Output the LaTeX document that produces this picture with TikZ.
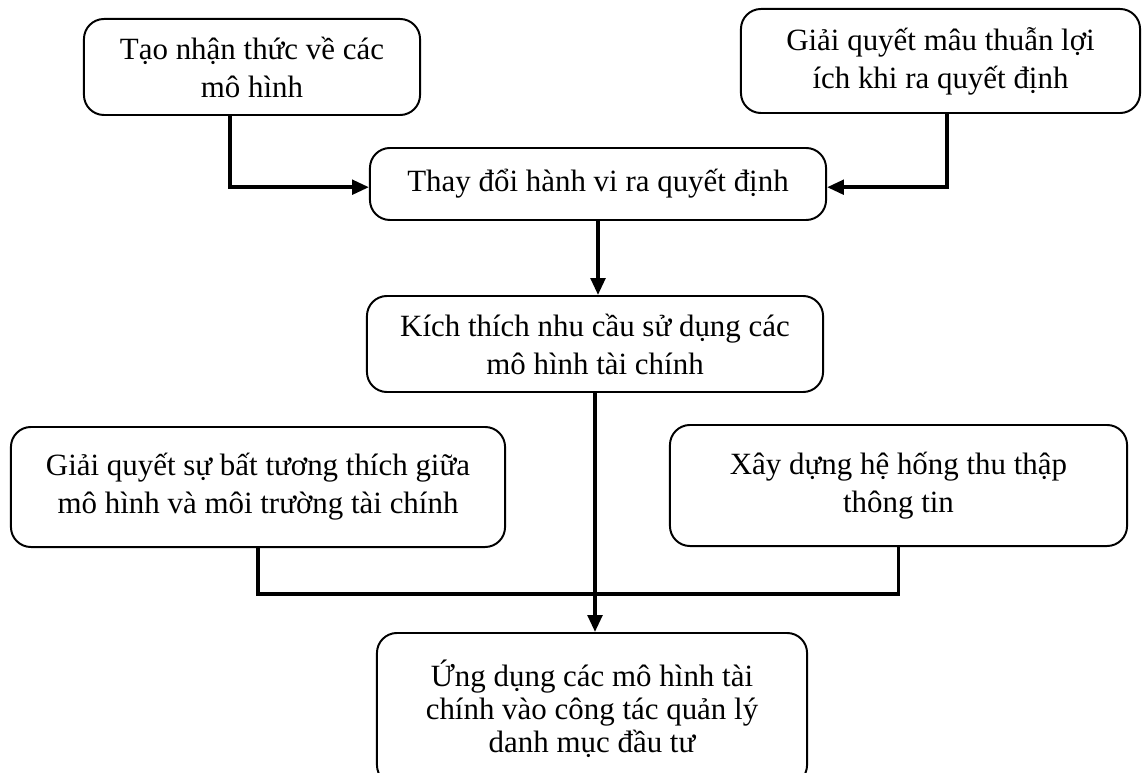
\documentclass[tikz,border=0pt]{standalone}
\usepackage{fontspec}
\setmainfont{Liberation Serif}
\usetikzlibrary{arrows.meta,positioning}

\begin{document}
\begin{tikzpicture}[x=0.025cm,y=-0.025cm,
        every node/.style={font=\fontsize{22}{27}\selectfont},
        box/.style={draw,line width=1.4pt,rounded corners=0.5cm,align=center,inner sep=0pt},
        link/.style={line width=2.6pt},
        arr/.style={link,-{Triangle[length=0.42cm,width=0.36cm]}}]
      \useasboundingbox (0,0) rectangle (1148,773);
      \node[box,minimum width=8.4cm,minimum height=2.4cm]     (nhanthuc) at (252,67)    {Tạo nhận thức về các\\mô hình};
      \node[box,minimum width=9.975cm,minimum height=2.6cm]   (mauthuan) at (940.5,61)  {Giải quyết mâu thuẫn lợi\\ích khi ra quyết định};
      \node[box,minimum width=11.4cm,minimum height=1.8cm]    (hanhvi)   at (598,184)   {Thay đổi hành vi ra quyết định};
      \node[box,minimum width=11.4cm,minimum height=2.4cm]    (nhucau)   at (595,344)   {Kích thích nhu cầu sử dụng các\\mô hình tài chính};
      \node[box,minimum width=12.35cm,minimum height=3cm]     (tuongthich) at (258,487) {Giải quyết sự bất tương thích giữa\\mô hình và môi trường tài chính};
      \node[box,minimum width=11.425cm,minimum height=3.025cm] (thongtin) at (898.5,485.5) {Xây dựng hệ hống thu thập\\thông tin};
      \node[box,minimum width=10.75cm,minimum height=3.8cm,
            font=\fontsize{22}{23.5}\selectfont]               (ungdung)  at (592,709)   {Ứng dụng các mô hình tài\\chính vào công tác quản lý\\danh mục đầu tư};
      % arrows into the decision box
      \draw[arr] ([xshift=-0.55cm]nhanthuc.south) |- ([yshift=-0.08cm]hanhvi.west);
      \draw[arr] ([xshift=0.16cm]mauthuan.south) |- ([yshift=-0.08cm]hanhvi.east);
      \draw[arr] (hanhvi.south) -- (hanhvi.south |- nhucau.north);
      \draw[arr] (nhucau.south) -- (nhucau.south |- ungdung.north);
      % joining line of the two lower boxes
      \draw[link] (tuongthich.south) -- ++(0,46) -| (thongtin.south);
    \end{tikzpicture}
\end{document}
